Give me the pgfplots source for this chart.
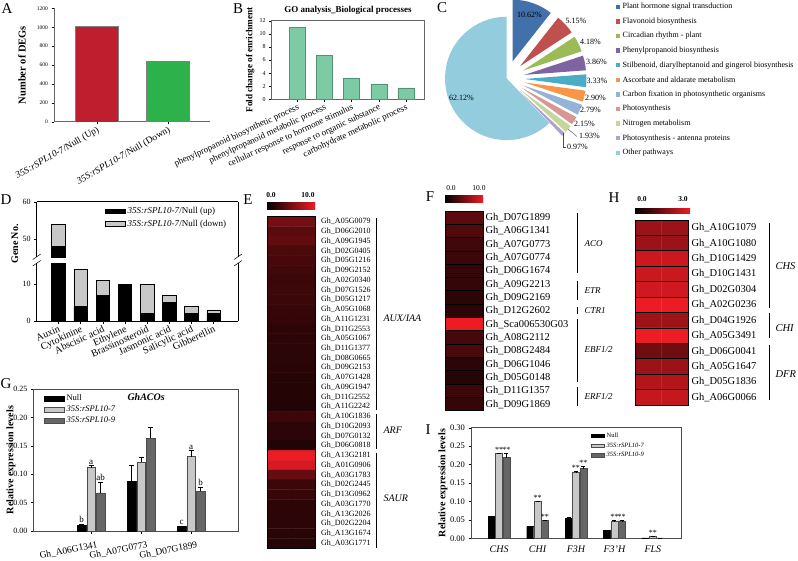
\documentclass[border=0pt]{standalone}
\usepackage{fontspec}
\setmainfont{Liberation Serif}
\usepackage{pgfplots}
\pgfplotsset{compat=1.18}
\usetikzlibrary{calc}

\definecolor{Ared}{RGB}{190,30,45}
\definecolor{Agreen}{RGB}{45,178,75}
\definecolor{Bfill}{RGB}{125,203,165}
\definecolor{Bedge}{RGB}{85,145,115}
\definecolor{hmred}{RGB}{237,28,36}
\definecolor{lgrey}{RGB}{200,200,200}
\definecolor{dgrey}{RGB}{102,102,102}
\definecolor{pA}{RGB}{65,112,170}
\definecolor{pB}{RGB}{192,80,77}
\definecolor{pC}{RGB}{155,187,89}
\definecolor{pD}{RGB}{128,100,162}
\definecolor{pE}{RGB}{75,172,198}
\definecolor{pF}{RGB}{247,150,70}
\definecolor{pG}{RGB}{149,179,215}
\definecolor{pH}{RGB}{217,150,148}
\definecolor{pI}{RGB}{195,214,155}
\definecolor{pJ}{RGB}{179,162,199}
\definecolor{pK}{RGB}{147,205,221}

\newcommand\fs[1]{\fontsize{#1}{#1}\selectfont}
\newcommand\g[1]{Gh\_#1}
\newcommand\spl[1]{\textit{35S:rSPL10-#1}}

\pgfplotsset{
  myax/.style={scale only axis, anchor=south west, tick align=outside,
    major tick length=2.5pt, tick style={black, line width=0.4pt},
    /pgf/number format/assume math mode=true,
    /pgf/number format/1000 sep={},
    every outer x axis line/.append style={-},
    every outer y axis line/.append style={-},
    axis line style={line width=0.5pt}},
  heat/.style={scale only axis, anchor=south west, xmin=-0.5, xmax=1.5,
    y dir=reverse, xtick=\empty, yticklabel pos=right,
    major tick length=0pt, minor tick length=0pt,
    yminorgrids, minor grid style={black, line width=0.8pt},
    axis on top, axis line style={black, line width=0.8pt},
    colormap={br}{rgb255=(0,0,0) rgb255=(237,28,36)},
    point meta min=0},
  barlegend/.style={legend image code/.code={\draw[##1] (0pt,-2.3pt) rectangle (20pt,2.3pt);}},
}

\begin{document}
\begin{tikzpicture}[x=1pt,y=1pt]
\path[use as bounding box] (0,0) rectangle (798,-560);

% panel letters
\foreach \l/\x/\y in {A/7/9, B/238/9, C/442/8, D/6/200, E/248/200, F/430/197, G/6/384, H/614/198, I/428/430}
  \node[font=\fs{15}] at (\x,-\y) {\l};

% ---------------- A
\begin{axis}[myax, width=156pt, height=113.4pt, at={(54pt,-121.7pt)},
  xmin=0.4, xmax=2.59, ymin=0, ymax=1200,
  axis x line*=bottom, axis y line*=left, axis line style={black!60},
  ytick={0,200,...,1200}, xtick={1,2},
  xticklabels={\spl{7}/Null (Up), \spl{7}/Null (Down)},
  x tick label style={rotate=30, anchor=north east, font=\fs{9.5}, inner sep=1pt},
  y tick label style={font=\fs{5.5}},
  ylabel={Number of DEGs},
  ylabel style={font=\bfseries\fs{10.5}, at={(axis description cs:-0.205,0.5)}, anchor=center},
  ybar, bar width=43pt]
\addplot[fill=Ared, draw=black!50, bar shift=0pt] coordinates {(1,1010)};
\addplot[fill=Agreen, draw=black!50, bar shift=0pt] coordinates {(2,635)};
\end{axis}

% ---------------- B
\begin{axis}[myax, width=152.6pt, height=78.6pt, at={(271.7pt,-99.3pt)},
  xmin=0.05, xmax=5.68, ymin=0, ymax=12, ytick={0,2,...,12}, xtick={1,...,5},
  axis line style={black!60},
  xticklabels={phenylpropanoid biosynthetic process, phenylpropanoid metabolic process,
    cellular response to hormone stimulus, response to organic substance,
    carbohydrate metabolic process},
  x tick label style={rotate=25, anchor=north east, font=\fs{9}, inner sep=1pt},
  y tick label style={font=\fs{6}}, xtick pos=bottom, ytick pos=left,
  title={GO analysis\_Biological processes}, title style={font=\bfseries\fs{9}, yshift=-3pt},
  ylabel={Fold change of enrichment},
  ylabel style={font=\bfseries\fs{9.2}, at={(axis description cs:-0.142,0.5)}, anchor=center},
  ybar, bar width=16pt]
\addplot[fill=Bfill, draw=Bedge, bar shift=0pt] coordinates {(1,11.0) (2,6.7) (3,3.2) (4,2.35) (5,1.75)};
\end{axis}

% ---------------- C
\begin{axis}[hide axis, x=1pt, y=1pt, xmin=-80, xmax=80, ymin=-80, ymax=80,
  at={(506.7pt,-78.4pt)}, anchor=center, clip=false]
\pgfplotsextra{
  \gdef\angA{90}
  \foreach \p/\c/\d in {10.62/pA/18pt, 5.15/pB/18pt, 4.18/pC/18pt, 3.86/pD/18pt,
      3.33/pE/18pt, 2.90/pF/18pt, 2.79/pG/18pt, 2.15/pH/18pt, 1.93/pI/18pt,
      0.97/pJ/18pt, 62.12/pK/0pt}{
    \pgfmathsetmacro\angB{\angA-3.6*\p}
    \pgfmathsetmacro\angM{(\angA+\angB)/2}
    \fill[\c] ([shift={(\angM:\d)}]axis cs:0,0) -- ++(\angA:61.7pt)
      arc[start angle=\angA, end angle=\angB, radius=61.7pt] -- cycle;
    \xdef\angA{\angB}
  }
}
\end{axis}
\begin{scope}[font=\fs{8}]
\node at (529.5,-15) {10.62\%};
\node at (576,-20.7) {5.15\%};
\node at (590.5,-41.7) {4.18\%};
\node at (596.5,-61.7) {3.86\%};
\node at (597,-80.7) {3.33\%};
\node at (595.5,-97.7) {2.90\%};
\node at (590.5,-110) {2.79\%};
\node at (584.5,-124.3) {2.15\%};
\node at (589.5,-136) {1.93\%};
\node at (577.5,-147.3) {0.97\%};
\node at (461.5,-97.7) {62.12\%};
\draw[black!70, line width=0.4pt] (568,-129) -- (577,-136.5);
\draw[black!70, line width=0.4pt] (563.3,-133) -- (563.3,-147) -- (566,-147);
\end{scope}
\foreach \t/\c [count=\i from 0] in {Plant hormone signal transduction/pA,
    Flavonoid biosynthesis/pB, Circadian rhythm - plant/pC,
    Phenylpropanoid biosynthesis/pD,
    {Stilbenoid, diarylheptanoid and gingerol biosynthesis}/pE,
    Ascorbate and aldarate metabolism/pF,
    Carbon fixation in photosynthetic organisms/pG, Photosynthesis/pH,
    Nitrogen metabolism/pI, Photosynthesis - antenna proteins/pJ, Other pathways/pK}{
  \fill[\c] (616,{-6.7-14.6*\i-2.2}) rectangle ++(4.4,4.4);
  \node[anchor=west, inner sep=0pt, font=\fs{8}] at (622.5,{-6.7-14.6*\i}) {\t};
}

% ---------------- D (broken axis)
\begin{axis}[myax, width=201.3pt, height=55.5pt, at={(36.7pt,-257.2pt)},
  xmin=0.02, xmax=9.1, ymin=45, ymax=60, ytick={50,60}, xtick=\empty,
  axis x line*=top, axis y line*=box, ytick pos=left,
  y tick label style={font=\fs{8}},
  ybar stacked, bar width=13.5pt, barlegend,
  legend style={at={(rel axis cs:0.339,0.94)}, anchor=north west, draw=none,
    fill=none, font=\fs{9}, inner sep=0pt, row sep=1pt,
    cells={anchor=west}}]
% only the Auxin bar reaches the upper segment
\addplot[fill=black, draw=black] coordinates {(1,48)};
\addplot[fill=lgrey, draw=black] coordinates {(1,6)};
\legend{\spl{7}/Null (up), \spl{7}/Null (down)}
\end{axis}
\begin{axis}[myax, width=201.3pt, height=58pt, at={(36.7pt,-321pt)},
  xmin=0.02, xmax=9.1, ymin=0, ymax=15.7, ytick={0,10}, xtick={1,...,8},
  axis x line*=bottom, axis y line*=box, ytick pos=left,
  y tick label style={font=\fs{8}},
  xticklabels={Auxin, Cytokinine, Abscisic acid, Ethylene, Brassinosteroid,
    Jasmonic acid, Salicylic acid, Gibberellin},
  x tick label style={rotate=25, anchor=north east, font=\fs{10}, inner sep=1pt},
  ybar stacked, bar width=13.5pt]
\addplot[fill=black, draw=black] coordinates {(1,48) (2,4) (3,7) (4,10) (5,2) (6,5) (7,2) (8,2)};
\addplot[fill=lgrey, draw=black] coordinates {(1,6) (2,10) (3,4) (4,0) (5,8) (6,2) (7,2) (8,1)};
\end{axis}
\node[rotate=90, font=\bfseries\fs{10}] at (15,-244) {Gene No.};
\foreach \x in {36.7,238}{
  \draw[line width=0.5pt] (\x-4,-259.5) -- (\x+4,-254);
  \draw[line width=0.5pt] (\x-4,-266) -- (\x+4,-260.5);
}

% ---------------- E heatmap
\shade[left color=black, right color=hmred] (267,-202) rectangle (315,-209);
\node[font=\bfseries\fs{7.5}] at (271,-195.5) {0.0};
\node[font=\bfseries\fs{7.5}] at (308,-195.5) {10.0};
\begin{axis}[heat, width=48pt, height=331.3pt, at={(267pt,-548pt)},
  ymin=0.5, ymax=34.5, point meta max=10,
  ytick=\empty, minor ytick={1.5,2.5,...,33.5}]
\addplot[matrix plot*, mesh/cols=2, point meta=explicit] coordinates {
(0,1) [4.9] (1,1) [4.9] (0,2) [3.8] (1,2) [3.8] (0,3) [4.1] (1,3) [4.1]
(0,4) [3.1] (1,4) [3.1] (0,5) [3.0] (1,5) [3.0] (0,6) [2.7] (1,6) [2.7]
(0,7) [2.5] (1,7) [2.5] (0,8) [2.6] (1,8) [2.6] (0,9) [2.5] (1,9) [2.5]
(0,10) [2.3] (1,10) [2.3] (0,11) [2.2] (1,11) [2.2] (0,12) [1.9] (1,12) [1.9]
(0,13) [1.9] (1,13) [1.9] (0,14) [1.8] (1,14) [1.8] (0,15) [1.8] (1,15) [1.8]
(0,16) [1.7] (1,16) [1.7] (0,17) [1.6] (1,17) [1.6] (0,18) [1.5] (1,18) [1.5]
(0,19) [1.5] (1,19) [1.5] (0,20) [1.4] (1,20) [1.4] (0,21) [2.5] (1,21) [2.5]
(0,22) [1.8] (1,22) [1.8] (0,23) [1.8] (1,23) [1.8] (0,24) [1.4] (1,24) [1.4]
(0,25) [10] (1,25) [10] (0,26) [9.0] (1,26) [9.0] (0,27) [4.2] (1,27) [4.2]
(0,28) [2.5] (1,28) [2.5] (0,29) [2.3] (1,29) [2.3] (0,30) [1.9] (1,30) [1.9]
(0,31) [1.9] (1,31) [1.9] (0,32) [1.8] (1,32) [1.8] (0,33) [1.7] (1,33) [1.7]
(0,34) [1.6] (1,34) [1.6]};
\end{axis}
\foreach \n [count=\i] in {A05G0079,D06G2010,A09G1945,D02G0405,D05G1216,
    D09G2152,A02G0340,D07G1526,D05G1217,A05G1068,A11G1231,D11G2553,A05G1067,
    D11G1377,D08G0665,D09G2153,A07G1428,A09G1947,D11G2552,A11G2242,A10G1836,
    D10G2093,D07G0132,D06G0818,A13G2181,A01G0906,A03G1783,D02G2445,D13G0962,
    A03G1770,A13G2026,D02G2204,A13G1674,A03G1771}
  \node[anchor=west, inner sep=0pt, font=\fs{8}] at (321,{-216.7-9.744*(\i-0.5)}) {\g{\n}};
\draw[line width=0.8pt] (376,-218) -- (376,-409.5);
\draw[line width=0.8pt] (376,-413.5) -- (376,-448.5);
\draw[line width=0.8pt] (376,-452.5) -- (376,-548);
\node[anchor=west, font=\itshape\fs{10}] at (380,-318) {AUX/IAA};
\node[anchor=west, font=\itshape\fs{10}] at (380,-430) {ARF};
\node[anchor=west, font=\itshape\fs{10}] at (380,-498) {SAUR};

% ---------------- F heatmap
\shade[left color=black, right color=hmred] (445,-195) rectangle (483,-202);
\node[font=\fs{7.5}] at (451,-188) {0.0};
\node[font=\fs{7.5}] at (479,-188) {10.0};
\begin{axis}[heat, width=38pt, height=199.7pt, at={(445pt,-410.7pt)},
  ymin=0.5, ymax=15.5, point meta max=10,
  ytick={1,...,15}, minor ytick={1.5,2.5,...,14.5},
  yticklabel style={font=\fs{10.5}, xshift=-1pt},
  yticklabels={\g{D07G1899},\g{A06G1341},\g{A07G0773},\g{A07G0774},\g{D06G1674},
    \g{A09G2213},\g{D09G2169},\g{D12G2602},\g{Sca006530G03},\g{A08G2112},
    \g{D08G2484},\g{D06G1046},\g{D05G0148},\g{D11G1357},\g{D09G1869}}]
\addplot[matrix plot*, mesh/cols=2, point meta=explicit] coordinates {
(0,1) [3.8] (1,1) [3.8] (0,2) [3.4] (1,2) [3.4] (0,3) [2.7] (1,3) [2.7]
(0,4) [2.5] (1,4) [2.5] (0,5) [2.2] (1,5) [2.2] (0,6) [2.2] (1,6) [2.2]
(0,7) [1.9] (1,7) [1.9] (0,8) [1.9] (1,8) [1.9] (0,9) [10] (1,9) [10]
(0,10) [2.9] (1,10) [2.9] (0,11) [3.1] (1,11) [3.1] (0,12) [1.8] (1,12) [1.8]
(0,13) [1.6] (1,13) [1.6] (0,14) [2.5] (1,14) [2.5] (0,15) [2.2] (1,15) [2.2]};
\end{axis}
\draw[line width=0.8pt] (577,-213) -- (577,-273);
\draw[line width=0.8pt] (577,-281) -- (577,-300);
\draw[line width=0.8pt] (577,-307) -- (577,-314);
\draw[line width=0.8pt] (577,-319) -- (577,-382);
\draw[line width=0.8pt] (577,-387) -- (577,-406);
\begin{scope}[every node/.style={anchor=west, font=\itshape\fs{9}}]
\node at (581,-244) {ACO};
\node at (581,-290.5) {ETR};
\node at (581,-310.5) {CTR1};
\node at (581,-350) {EBF1/2};
\node at (581,-397) {ERF1/2};
\end{scope}

% ---------------- H heatmap
\shade[left color=black, right color=hmred] (635,-208) rectangle (690,-213.5);
\node[font=\bfseries\fs{7.5}] at (642,-199.5) {0.0};
\node[font=\bfseries\fs{7.5}] at (683,-199.5) {3.0};
\begin{axis}[heat, width=53pt, height=185pt, at={(635pt,-405pt)},
  ymin=0.5, ymax=12.5, point meta max=3,
  ytick={1,...,12}, minor ytick={1.5,2.5,...,11.5},
  yticklabel style={font=\fs{10.5}},
  yticklabels={\g{A10G1079},\g{A10G1080},\g{D10G1429},\g{D10G1431},\g{D02G0304},
    \g{A02G0236},\g{D04G1926},\g{A05G3491},\g{D06G0041},\g{A05G1647},
    \g{D05G1836},\g{A06G0066}}]
\addplot[matrix plot*, mesh/cols=2, point meta=explicit] coordinates {
(0,1) [1.95] (1,1) [1.95] (0,2) [1.95] (1,2) [1.95] (0,3) [2.55] (1,3) [2.55]
(0,4) [2.55] (1,4) [2.55] (0,5) [2.6] (1,5) [2.6] (0,6) [3.0] (1,6) [3.0]
(0,7) [2.0] (1,7) [2.0] (0,8) [3.0] (1,8) [3.0] (0,9) [1.4] (1,9) [1.4]
(0,10) [1.95] (1,10) [1.95] (0,11) [2.25] (1,11) [2.25] (0,12) [2.5] (1,12) [2.5]};
\end{axis}
\draw[line width=0.8pt] (769,-223) -- (769,-308);
\draw[line width=0.8pt] (769,-313) -- (769,-338);
\draw[line width=0.8pt] (769,-345) -- (769,-400);
\begin{scope}[every node/.style={anchor=west, font=\itshape\fs{10.5}}]
\node at (772,-266) {CHS};
\node at (772,-328) {CHI};
\node at (772,-374) {DFR};
\end{scope}

% ---------------- G
\begin{axis}[myax, width=204.7pt, height=142pt, at={(33.3pt,-531pt)},
  xmin=-0.16, xmax=3.94, ymin=0, ymax=0.25, ytick={0,0.05,...,0.25},
  yticklabel style={font=\fs{8}, /pgf/number format/.cd, fixed, fixed zerofill, precision=2},
  xtick={1,2,3}, xticklabels={\g{A06G1341},\g{A07G0773},\g{D07G1899}},
  x tick label style={rotate=11, anchor=north east, font=\fs{9.5}, inner sep=1pt,
    xshift=5pt, yshift=-7pt},
  xtick pos=bottom, ytick pos=left, axis line style={black!70},
  ylabel={Relative expression levels},
  ylabel style={font=\bfseries\fs{10}, at={(axis description cs:-0.109,0.5)}, anchor=center},
  ybar=1pt, bar width=8.5pt, barlegend,
  legend style={at={(rel axis cs:0.052,0.975)}, anchor=north west, draw=none,
    fill=none, font=\fs{8.5}, inner sep=0pt, row sep=0pt, cells={anchor=west}},
  error bars/error bar style={black, line width=0.5pt},
  error bars/error mark options={rotate=90, mark size=2.5pt, line width=0.5pt, black}]
\addplot[fill=black, draw=black, error bars/.cd, y dir=plus, y explicit]
  coordinates {(1,0.010) +- (0,0.0025) (2,0.087) +- (0,0.029) (3,0.0088) +- (0,0)};
\addplot[fill=lgrey, draw=black!70, error bars/.cd, y dir=plus, y explicit]
  coordinates {(1,0.1115) +- (0,0.004) (2,0.121) +- (0,0.009) (3,0.131) +- (0,0.011)};
\addplot[fill=dgrey, draw=black!70, error bars/.cd, y dir=plus, y explicit]
  coordinates {(1,0.067) +- (0,0.0195) (2,0.1637) +- (0,0.019) (3,0.0704) +- (0,0.007)};
\legend{Null, \spl{7}, \spl{9}}
\node[font=\bfseries\itshape\fs{10}] at (axis cs:2.1,0.236) {GhACOs};
\begin{scope}[every node/.style={anchor=south, font=\fs{9}, inner sep=1pt}]
\node[xshift=-9.5pt] at (axis cs:1,0.0125) {b};
\node at (axis cs:1,0.1155) {a};
\node[xshift=9.5pt] at (axis cs:1,0.0865) {ab};
\node[xshift=-9.5pt] at (axis cs:3,0.0088) {c};
\node at (axis cs:3,0.142) {a};
\node[xshift=9.5pt] at (axis cs:3,0.0775) {b};
\end{scope}
\end{axis}

% ---------------- I
\begin{axis}[myax, width=210.7pt, height=110.6pt, at={(471pt,-538.3pt)},
  xmin=0.27, xmax=5.75, ymin=0, ymax=0.3, ytick={0,0.05,...,0.3},
  yticklabel style={font=\fs{8.5}, /pgf/number format/.cd, fixed, fixed zerofill, precision=2},
  xtick={1,...,5}, xticklabels={CHS, CHI, F3H, F3'H, FLS},
  x tick label style={font=\itshape\fs{10}, yshift=-2pt},
  xtick pos=bottom, ytick pos=left, major x tick style={draw=none},
  axis line style={black!70},
  ylabel={Relative expression levels},
  ylabel style={font=\bfseries\fs{10}, at={(axis description cs:-0.133,0.5)}, anchor=center},
  ybar=0.3pt, bar width=7pt,
  legend image code/.code={\draw[#1] (0pt,-1.8pt) rectangle (13pt,1.8pt);},
  legend style={at={(rel axis cs:0.57,0.975)}, anchor=north west, draw=none,
    fill=none, font=\fs{6.5}, inner sep=0pt, row sep=0pt, cells={anchor=west}},
  error bars/error bar style={black, line width=0.4pt},
  error bars/error mark options={rotate=90, mark size=2pt, line width=0.4pt, black}]
\addplot[fill=black, draw=black, error bars/.cd, y dir=plus, y explicit]
  coordinates {(1,0.060) +- (0,0.001) (2,0.032) +- (0,0.001) (3,0.055) +- (0,0.001) (4,0.022) +- (0,0.001) (5,0.001) +- (0,0)};
\addplot[fill=lgrey, draw=black!70, error bars/.cd, y dir=plus, y explicit]
  coordinates {(1,0.230) +- (0,0.002) (2,0.101) +- (0,0.001) (3,0.179) +- (0,0.002) (4,0.047) +- (0,0.001) (5,0.006) +- (0,0.001)};
\addplot[fill=dgrey, draw=black!70, error bars/.cd, y dir=plus, y explicit]
  coordinates {(1,0.219) +- (0,0.011) (2,0.049) +- (0,0.001) (3,0.189) +- (0,0.007) (4,0.047) +- (0,0.001) (5,0.001) +- (0,0)};
\legend{Null, \spl{7}, \spl{9}}
\begin{scope}[every node/.style={anchor=south, font=\fs{8}, inner sep=0.5pt}]
\node at (axis cs:1,0.232) {**};
\node[xshift=7.3pt] at (axis cs:1,0.230) {**};
\node at (axis cs:2,0.102) {**};
\node[xshift=7.3pt] at (axis cs:2,0.050) {**};
\node at (axis cs:3,0.181) {**};
\node[xshift=7.3pt] at (axis cs:3,0.196) {**};
\node at (axis cs:4,0.048) {**};
\node[xshift=7.3pt] at (axis cs:4,0.048) {**};
\node at (axis cs:5,0.007) {**};
\end{scope}
\end{axis}
\end{tikzpicture}
\end{document}
